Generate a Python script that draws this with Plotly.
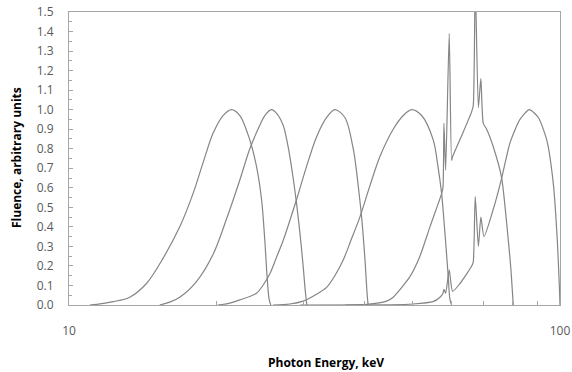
import plotly.graph_objects as go

# ---------------- data ----------------
ns25_e = [11.02, 11.39, 12.29, 13.30, 14.38, 15.55, 16.81, 17.89, 18.76, 19.66,
          20.60, 21.43, 22.28, 23.35, 24.09, 24.67, 25.05, 25.32, 25.56, 25.76]
ns25_v = [0.0, 0.003, 0.017, 0.04, 0.11, 0.24, 0.40, 0.57, 0.73, 0.88,
          0.97, 1.0, 0.97, 0.845, 0.71, 0.54, 0.33, 0.145, 0.03, 0.0]

ns30_e = [15.30, 16.04, 16.81, 18.18, 19.66, 20.93, 22.28, 23.35, 24.47, 25.05,
          25.83, 26.50, 27.30, 27.74, 28.17, 28.61, 29.07, 29.53, 29.98, 30.29, 30.51]
ns30_v = [0.0, 0.015, 0.04, 0.12, 0.26, 0.44, 0.64, 0.80, 0.92, 0.97,
          1.0, 0.98, 0.92, 0.85, 0.76, 0.65, 0.52, 0.37, 0.20, 0.07, 0.0]

ns40_e = [20.09, 21.26, 22.28, 24.09, 24.82, 25.65, 26.47, 27.30, 29.07, 30.47,
          31.93, 33.47, 34.79, 36.47, 37.92, 38.40, 38.82, 39.44, 40.05, 40.49, 40.67]
ns40_v = [0.0, 0.01, 0.026, 0.06, 0.10, 0.16, 0.245, 0.33, 0.54, 0.71,
          0.86, 0.96, 1.0, 0.96, 0.80, 0.71, 0.61, 0.45, 0.24, 0.05, 0.0]

ns60_e = [26.04, 28.17, 29.98, 31.67, 33.47, 34.79, 36.18, 37.63, 39.12, 41.00,
          42.98, 45.74, 47.94, 49.87, 52.27, 55.18, 56.42, 57.40, 58.29, 59.21,
          59.68, 60.16]
ns60_v = [0.0, 0.005, 0.02, 0.05, 0.09, 0.15, 0.23, 0.34, 0.45, 0.61,
          0.76, 0.90, 0.97, 1.0, 0.97, 0.845, 0.71, 0.57, 0.37, 0.145,
          0.03, 0.0]

ns80_e = [36.47, 40.38, 44.34, 45.74, 49.47, 51.85, 54.34, 57.40, 57.76, 58.03,
          58.49, 59.48, 60.16, 60.44, 63.14, 66.09, 66.57, 67.20, 68.20, 69.00,
          69.78, 70.89, 73.13, 76.07, 77.87, 79.34, 80.32]
ns80_v = [0.0, 0.003, 0.02, 0.04, 0.145, 0.25, 0.40, 0.57, 0.60, 0.93,
          0.69, 1.39, 0.74, 0.76, 0.87, 0.99, 1.02, 1.65, 1.01, 1.16,
          0.93, 0.90, 0.81, 0.65, 0.42, 0.20, 0.0]

ns100_e = [29.53, 45.00, 50.17, 55.11, 56.96, 57.76, 58.03, 58.49, 59.48, 60.44,
           62.55, 66.09, 66.57, 67.20, 68.20, 69.00, 70.02, 73.13, 76.07, 79.09,
           82.89, 86.59, 90.34, 93.96, 96.92, 98.75, 99.69, 100.0]
ns100_v = [0.0, 0.001, 0.005, 0.017, 0.04, 0.06, 0.08, 0.06, 0.18, 0.07,
           0.11, 0.20, 0.22, 0.555, 0.30, 0.45, 0.35, 0.49, 0.65, 0.83,
           0.95, 1.0, 0.96, 0.845, 0.62, 0.33, 0.10, 0.0]

series = [("NS25", ns25_e, ns25_v, 0.9), ("NS30", ns30_e, ns30_v, 0.9),
          ("NS40", ns40_e, ns40_v, 0.9), ("NS60", ns60_e, ns60_v, 0.9),
          ("NS80", ns80_e, ns80_v, 0.6), ("NS100", ns100_e, ns100_v, 0.6)]

label_names = ["NS25", "NS30", "NS40", "NS60", "NS80", "NS100"]
label_x = [20.86, 25.7, 34.71, 50.76, 76.5, 90.2]
label_y = [1.01, 1.01, 1.01, 1.02, 1.16, 1.01]

x_tickvals = [10, 20, 30, 40, 50, 60, 70, 80, 90, 100]
x_ticktext = ["10", "", "", "", "", "", "", "", "", "100"]

x_title = "Photon Energy, keV"
y_title = "Fluence, arbitrary units"

# ---------------- figure ----------------
FONT = "Open Sans"
fig = go.Figure()
for name, e, v, sm in series:
    fig.add_trace(go.Scatter(x=e, y=v, mode="lines", name=name,
                             line=dict(color="#858585", width=1.2,
                                       shape="spline", smoothing=sm),
                             showlegend=False, hoverinfo="skip"))

for n, lx, ly in zip(label_names, label_x, label_y):
    fig.add_annotation(x=lx, y=ly, xref="x", yref="y", text=n, showarrow=False,
                       font=dict(family=FONT, size=12, color="#404040"),
                       xanchor="center", yanchor="middle")

fig.add_annotation(x=0.523, y=-0.195, xref="paper", yref="paper",
                   text="<b>" + x_title + "</b>", showarrow=False,
                   xanchor="center", yanchor="middle",
                   font=dict(family=FONT, size=12, color="#000000"))
fig.add_annotation(x=-0.108, y=0.505, xref="paper", yref="paper",
                   text="<b>" + y_title + "</b>", showarrow=False, textangle=-90,
                   xanchor="center", yanchor="middle",
                   font=dict(family=FONT, size=12, color="#000000"))

fig.update_layout(
    width=572, height=372,
    margin=dict(l=69, r=12, t=12, b=67),
    paper_bgcolor="white", plot_bgcolor="white",
    font=dict(family=FONT, size=11, color="#595959"),
    xaxis=dict(type="log", range=[1, 2], tickmode="array", automargin=False,
               tickvals=x_tickvals, ticktext=x_ticktext,
               ticks="inside", ticklen=4, tickcolor="#a6a6a6",
               showline=True, linecolor="#a6a6a6", linewidth=1, mirror=True,
               showgrid=False, zeroline=False,
               ticklabelstandoff=15,
               tickfont=dict(family=FONT, size=12, color="#595959")),
    yaxis=dict(range=[0, 1.5], dtick=0.1, tickformat=".1f", automargin=False,
               ticks="inside", ticklen=4, tickcolor="#a6a6a6",
               minor=dict(dtick=0.05, ticks="inside", ticklen=3, tickcolor="#a6a6a6"),
               showline=True, linecolor="#a6a6a6", linewidth=1, mirror=True,
               showgrid=False, zeroline=False,
               ticklabelstandoff=12,
               tickfont=dict(family=FONT, size=12, color="#595959")),
)

fig.write_html("out.html")
